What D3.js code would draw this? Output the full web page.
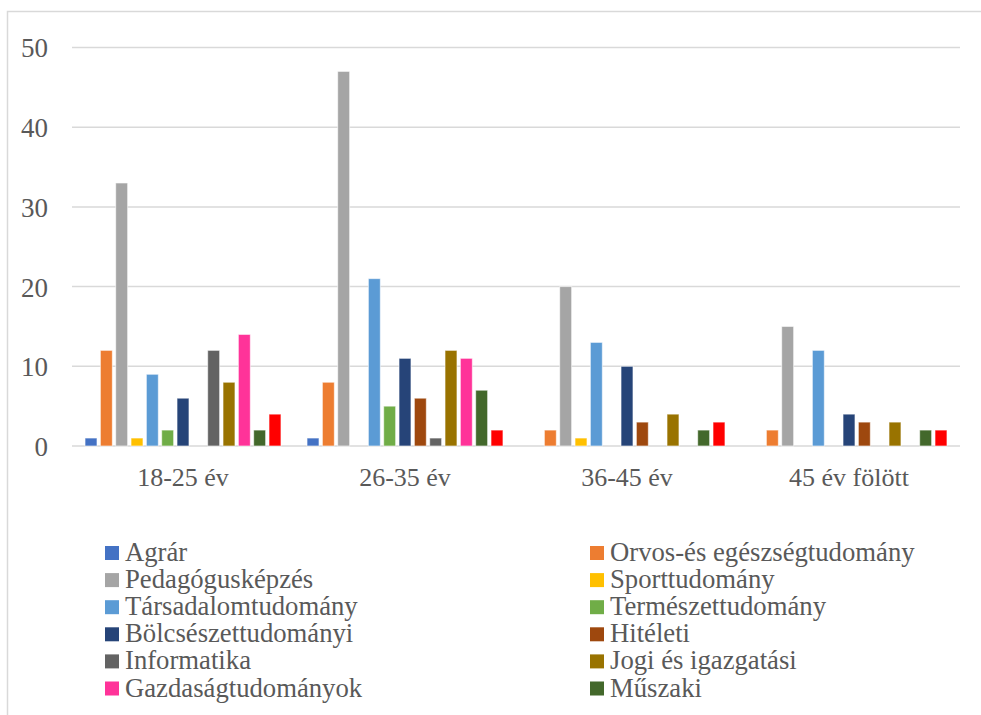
<!DOCTYPE html>
<html>
<head>
<meta charset="utf-8">
<script src="https://cdn.jsdelivr.net/npm/d3@7/dist/d3.min.js"></script>
<style>
  html, body { margin: 0; padding: 0; background: #fff; overflow: hidden; }
  svg { display: block; }
</style>
</head>
<body>
<div id="chart"></div>
<script>
// korcsoportok
var categories = ['18-25 év', '26-35 év', '36-45 év', '45 év fölött'];

// képzési területek (az utolsó a kivágott jelmagyarázat alatt van)
var seriesNames = [
  'Agrár', 'Orvos-és egészségtudomány', 'Pedagógusképzés', 'Sporttudomány',
  'Társadalomtudomány', 'Természettudomány', 'Bölcsészettudományi', 'Hitéleti',
  'Informatika', 'Jogi és igazgatási', 'Gazdaságtudományok', 'Műszaki', 'Művészeti'
];
var seriesColors = [
  '#4472C4', '#ED7D31', '#A5A5A5', '#FFC000',
  '#5B9BD5', '#70AD47', '#264478', '#9E480E',
  '#636363', '#997300', '#FF3399', '#43682B', '#FF0000'
];

// értékek soronként = sorozat, oszloponként = korcsoport
var agrar        = [1, 1, 0, 0];
var orvos        = [12, 8, 2, 2];
var pedagogus    = [33, 47, 20, 15];
var sport        = [1, 0, 1, 0];
var tarsadalom   = [9, 21, 13, 12];
var termeszet    = [2, 5, 0, 0];
var bolcsesz     = [6, 11, 10, 4];
var hiteleti     = [0, 6, 3, 3];
var informatika  = [12, 1, 0, 0];
var jogi         = [8, 12, 4, 3];
var gazdasag     = [14, 11, 0, 0];
var muszaki      = [2, 7, 2, 2];
var muveszeti    = [4, 2, 3, 2];

var seriesValues = [agrar, orvos, pedagogus, sport, tarsadalom, termeszet,
  bolcsesz, hiteleti, informatika, jogi, gazdasag, muszaki, muveszeti];

var yTicks = [0, 10, 20, 30, 40, 50];

var W = 981, H = 715;
var textColor = '#595959', gridColor = '#d9d9d9';
var serif = '"Liberation Serif", "Times New Roman", serif';

var svg = d3.select('#chart').append('svg')
  .attr('width', W).attr('height', H);

// keret (jobb és alsó széle kilóg a képből)
svg.append('rect')
  .attr('x', 7.5).attr('y', 11.5)
  .attr('width', 1000).attr('height', 800)
  .attr('fill', '#fff')
  .attr('stroke', gridColor).attr('stroke-width', 1.5);

var x0 = d3.scaleBand().domain(categories).range([72, 960]);
var gap = x0.bandwidth() * 0.0511;
var x1 = d3.scaleBand().domain(d3.range(seriesNames.length))
  .range([gap, x0.bandwidth() - gap])
  .paddingInner(0.22).paddingOuter(0.11);
var y = d3.scaleLinear().domain([0, 50]).range([446, 47.5]);

// rácsvonalak
svg.append('g').selectAll('line').data(yTicks).enter().append('line')
  .attr('x1', 72).attr('x2', 960)
  .attr('y1', function(d) { return y(d); })
  .attr('y2', function(d) { return y(d); })
  .attr('stroke', gridColor).attr('stroke-width', 1.5);

// y tengely feliratai
var yAxis = d3.axisLeft(y).tickValues(yTicks).tickSize(0).tickPadding(0);
var gy = svg.append('g').attr('transform', 'translate(48,0)').call(yAxis);
gy.select('.domain').remove();
gy.selectAll('text')
  .style('font-family', serif).style('font-size', '27px')
  .attr('fill', textColor).attr('dy', '0.35em');

// oszlopok
var groups = svg.append('g').selectAll('g').data(categories).enter().append('g')
  .attr('transform', function(c) { return 'translate(' + x0(c) + ',0)'; });

groups.selectAll('rect')
  .data(function(c, ci) {
    return seriesValues.map(function(vals, si) { return { s: si, v: vals[ci] }; })
      .filter(function(d) { return d.v > 0; });
  })
  .enter().append('rect')
  .attr('x', function(d) { return x1(d.s); })
  .attr('width', x1.bandwidth())
  .attr('y', function(d) { return y(d.v); })
  .attr('height', function(d) { return y(0) - y(d.v); })
  .attr('fill', function(d) { return seriesColors[d.s]; })
  .attr('stroke', 'rgba(255,255,255,0.6)').attr('stroke-width', 1);

// x tengely feliratai
var xAxis = d3.axisBottom(x0).tickSize(0).tickPadding(0);
var gx = svg.append('g').attr('transform', 'translate(0,468)').call(xAxis);
gx.select('.domain').remove();
gx.selectAll('text')
  .style('font-family', serif).style('font-size', '26px')
  .attr('fill', textColor).attr('dy', '0.71em');

// jelmagyarázat: két oszlop, a 7. sor már a képen kívül esik
var rowStep = 27.1, legendTop = 553;
var legendItems = seriesNames.filter(function(d, i) {
  return legendTop + Math.floor(i / 2) * rowStep + 10 < H;
});
var legend = svg.append('g')
  .selectAll('g').data(legendItems).enter().append('g')
  .attr('transform', function(d, i) {
    var col = i % 2, row = Math.floor(i / 2);
    return 'translate(' + (col ? 590 : 105) + ',' + (legendTop + row * rowStep) + ')';
  });
legend.append('rect')
  .attr('x', 0).attr('y', -7).attr('width', 14).attr('height', 14)
  .attr('fill', function(d, i) { return seriesColors[i]; });
legend.append('text')
  .attr('x', 20).attr('y', 8)
  .style('font-family', serif).style('font-size', '26.7px')
  .attr('fill', textColor)
  .text(function(d) { return d; });
</script>
</body>
</html>
